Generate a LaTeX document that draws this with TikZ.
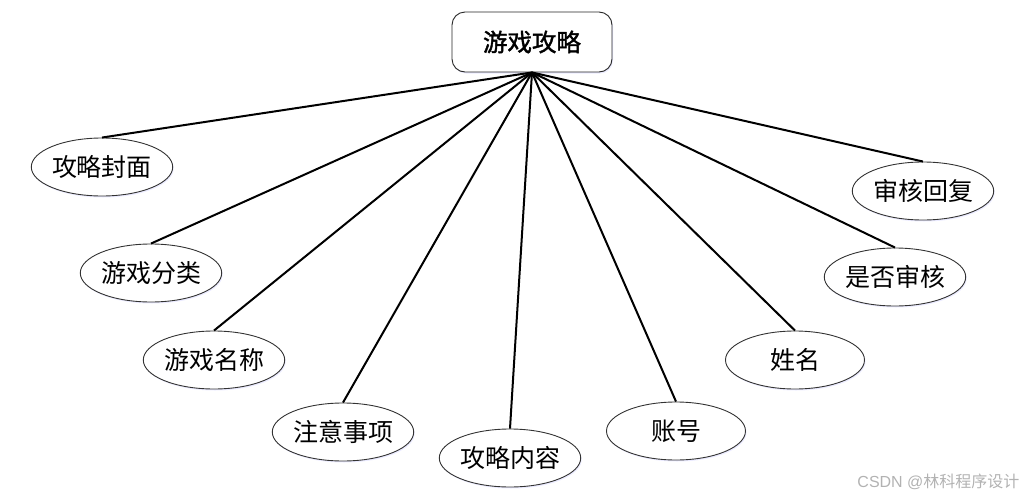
\documentclass[tikz,border=0pt]{standalone}
\usepackage{fontspec}
\newfontfamily\cjk{Noto Sans CJK SC}
\newfontfamily\cjkb{Noto Sans CJK SC}[FakeBold=1.5]
\usetikzlibrary{shapes.geometric,shadows}
\begin{document}
\begin{tikzpicture}[x=1pt,y=-1pt,
  attr/.style={ellipse,draw=black!80,line width=0.9pt,fill=white,minimum width=139pt,minimum height=58pt,inner sep=0pt,
    font=\cjk\fontsize{25}{28}\selectfont,
    drop shadow={shadow xshift=1pt,shadow yshift=-1.5pt,fill=blue!8,opacity=1}},
  main/.style={rectangle,rounded corners=13pt,draw=black!85,line width=0.9pt,fill=white,minimum width=160pt,minimum height=60pt,inner sep=0pt,
    font=\cjkb\fontsize{24.5}{27}\selectfont,
    drop shadow={shadow xshift=1pt,shadow yshift=-1.5pt,fill=blue!8,opacity=1}},
  link/.style={line width=2pt,black}]
\useasboundingbox (0,0) rectangle (1029,501);
\node[main] (c) at (532,42) {游戏攻略};
\node[attr] (a1) at (102,167) {攻略封面};
\node[attr] (a2) at (151,273) {游戏分类};
\node[attr] (a3) at (214,360) {游戏名称};
\node[attr] (a4) at (343,432) {注意事项};
\node[attr] (a5) at (510,458) {攻略内容};
\node[attr] (a6) at (676,431) {账号};
\node[attr] (a7) at (795,360) {姓名};
\node[attr] (a8) at (895,277) {是否审核};
\node[attr] (a9) at (923,191) {审核回复};
\foreach \i in {1,...,9}{\draw[link] (c.south) -- (a\i.north);}
\node[anchor=east,text=black!30,font=\fontspec{Liberation Sans}\fontsize{16}{18}\selectfont] (wm) at (1023,482) {CSDN @{\cjk 林科程序设计}};
\end{tikzpicture}
\end{document}
